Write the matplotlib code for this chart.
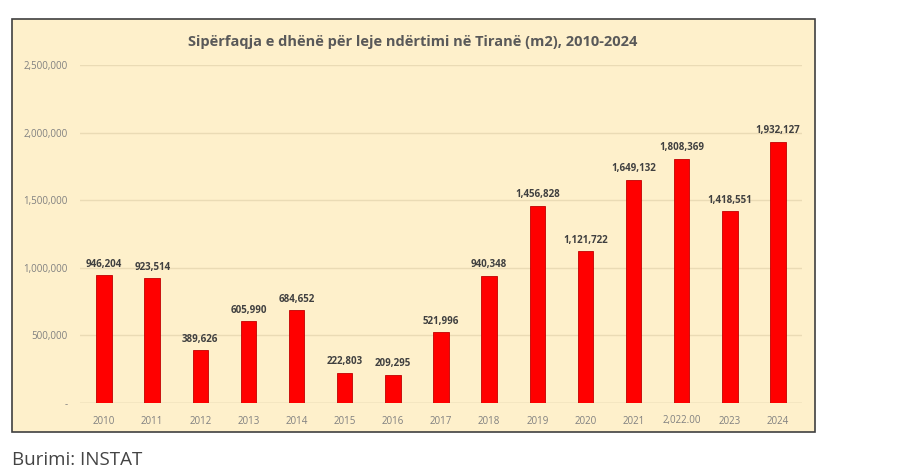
import matplotlib
matplotlib.use("Agg")
import matplotlib.pyplot as plt
from matplotlib.patches import Rectangle
from matplotlib.ticker import FuncFormatter

years = ["2010", "2011", "2012", "2013", "2014", "2015", "2016", "2017",
         "2018", "2019", "2020", "2021", "2,022.00", "2023", "2024"]
values = [946204, 923514, 389626, 605990, 684652, 222803, 209295, 521996,
          940348, 1456828, 1121722, 1649132, 1808369, 1418551, 1932127]
title = "Sipërfaqja e dhënë për leje ndërtimi në Tiranë (m2), 2010-2024"
source = "Burimi: INSTAT"

bg = "#FEF0CB"
fig = plt.figure(figsize=(9, 4.75), dpi=100)
fig.patch.set_facecolor("white")

# chart frame
frame = Rectangle((12/900, 1-432/475), (815-12)/900, (432-19)/475,
                  transform=fig.transFigure, facecolor=bg, edgecolor="#404040",
                  linewidth=1.2, zorder=-10)
fig.patches.append(frame)

ax = fig.add_axes([80/900, 1-403/475, (802-80)/900, (403-65)/475])
ax.set_zorder(1)
ax.set_facecolor("none")
x = list(range(len(years)))
ax.bar(x, values, width=0.32, color="#FF0000", edgecolor="#C00000",
       linewidth=0.6, zorder=3)
ax.set_xlim(-0.5, len(years)-0.5)
ax.set_ylim(0, 2500000)
ax.set_yticks([0, 500000, 1000000, 1500000, 2000000, 2500000])
ax.yaxis.set_major_formatter(FuncFormatter(lambda v, p: "-" if v == 0 else f"{int(v):,}"))
ax.set_xticks(x)
ax.set_xticklabels(years)
ax.tick_params(axis="both", length=0, labelsize=7, labelcolor="#808080")
ax.tick_params(axis="y", pad=9)
ax.tick_params(axis="x", pad=9)
ax.grid(axis="y", color="#EADBB5", linewidth=1.0, zorder=0)
for s in ax.spines.values():
    s.set_visible(False)
ax.axhline(0, color="#E0D3B0", linewidth=1.0, zorder=2)

for xi, v in zip(x, values):
    ax.annotate(f"{v:,}", (xi, v), xytext=(0, 4), textcoords="offset points",
                ha="center", va="bottom", fontsize=7, fontweight="bold",
                color="#404040", family="Open Sans")

fig.text(413/900, 1-42/475, title, ha="center", va="center", fontsize=10.5,
         fontweight="bold", color="#595959", family="Open Sans")
fig.text(12/900, 1-460/475, source, ha="left", va="center", fontsize=13.5,
         color="#444444", family="Open Sans")

for lbl in ax.get_xticklabels() + ax.get_yticklabels():
    lbl.set_family("Open Sans")

fig.savefig("out.png", dpi=100, facecolor="white")
